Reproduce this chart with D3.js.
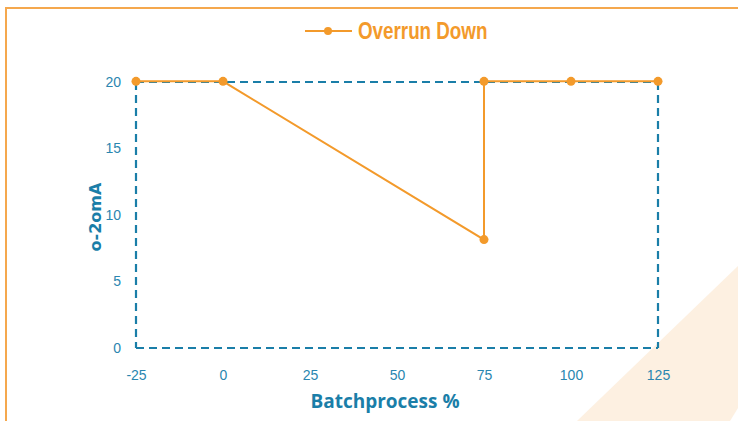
<!DOCTYPE html>
<html><head><meta charset="utf-8">
<script src="https://cdn.jsdelivr.net/npm/d3@7"></script>
<style>body{margin:0;background:#fff}svg{display:block}</style>
</head><body><svg id="c" width="738" height="421"></svg>
<script>
const seriesName = "Overrun Down";
const xValues = [-25, 0, 75, 75, 100, 125];
const yValues = [20.05, 20.05, 8.15, 20.05, 20.05, 20.05];
const xTicks = [-25, 0, 25, 50, 75, 100, 125];
const yTicks = [0, 5, 10, 15, 20];
const xTitle = "Batchprocess %";
const yTitle = "o-2omA";

const svg = d3.select("#c");
const orange = "#f39a2b", blue = "#1a7ea8";

// decorative corner shape
svg.append("polygon").attr("points","577,421 738,266 738,408 730,421").attr("fill","#fdf0e1");
// frame
svg.append("path").attr("d","M6,421 V8 H738").attr("fill","none").attr("stroke","#f5a84e").attr("stroke-width",2);

const x = d3.scaleLinear().domain([-25,125]).range([136,658]);
const y = d3.scaleLinear().domain([0,20]).range([348,82]);

// dashed plot box
const box = svg.append("g").attr("fill","none").attr("stroke",blue).attr("stroke-width",2.2).attr("stroke-dasharray","8,5");
box.append("line").attr("x1",x(-25)).attr("x2",x(125)).attr("y1",y(20)).attr("y2",y(20));
box.append("line").attr("x1",x(-25)).attr("x2",x(125)).attr("y1",y(0)).attr("y2",y(0));
box.append("line").attr("x1",x(-25)).attr("x2",x(-25)).attr("y1",y(20)).attr("y2",y(0));
box.append("line").attr("x1",x(125)).attr("x2",x(125)).attr("y1",y(20)).attr("y2",y(0));

// axes (labels only)
const fmt = d => String(d);
const xAxis = svg.append("g").attr("transform",`translate(0,${y(0)})`)
  .call(d3.axisBottom(x).tickValues(xTicks).tickFormat(fmt).tickSize(0).tickPadding(22));
const yAxis = svg.append("g").attr("transform",`translate(${x(-25)},0)`)
  .call(d3.axisLeft(y).tickValues(yTicks).tickFormat(fmt).tickSize(0).tickPadding(15));
[xAxis,yAxis].forEach(a=>{
  a.select(".domain").remove();
  a.selectAll("text").attr("fill","#2a86b0").style("font-family","'Liberation Sans',Arial,sans-serif").style("font-size","14px");
});

// line + markers
const pts = xValues.map((v,i)=>[v,yValues[i]]);
svg.append("path").datum(pts)
  .attr("d", d3.line().x(d=>x(d[0])).y(d=>y(d[1])))
  .attr("fill","none").attr("stroke",orange).attr("stroke-width",2);
svg.selectAll("circle.pt").data(pts).enter().append("circle").attr("class","pt")
  .attr("cx",d=>x(d[0])).attr("cy",d=>y(d[1])).attr("r",4.5).attr("fill",orange);

// legend
const lg = svg.append("g");
lg.append("line").attr("x1",305).attr("x2",352).attr("y1",31).attr("y2",31).attr("stroke",orange).attr("stroke-width",2);
lg.append("circle").attr("cx",328).attr("cy",31).attr("r",4).attr("fill",orange);
lg.append("text").attr("transform","translate(358,39) scale(0.8,1)").text(seriesName)
  .attr("fill",orange).style("font-family","'Liberation Sans',Arial,sans-serif").style("font-weight","bold").style("font-size","23.5px");

// titles
svg.append("text").attr("x",385).attr("y",408).attr("text-anchor","middle").text(xTitle)
  .attr("fill",blue).style("font-family","'Open Sans',sans-serif").style("font-weight","bold").style("font-size","19px");
svg.append("text").attr("transform","translate(101,217) rotate(-90)").attr("text-anchor","middle").text(yTitle)
  .attr("fill",blue).style("font-family","'DejaVu Sans',sans-serif").style("font-weight","bold").style("font-size","16px");
</script></body></html>
